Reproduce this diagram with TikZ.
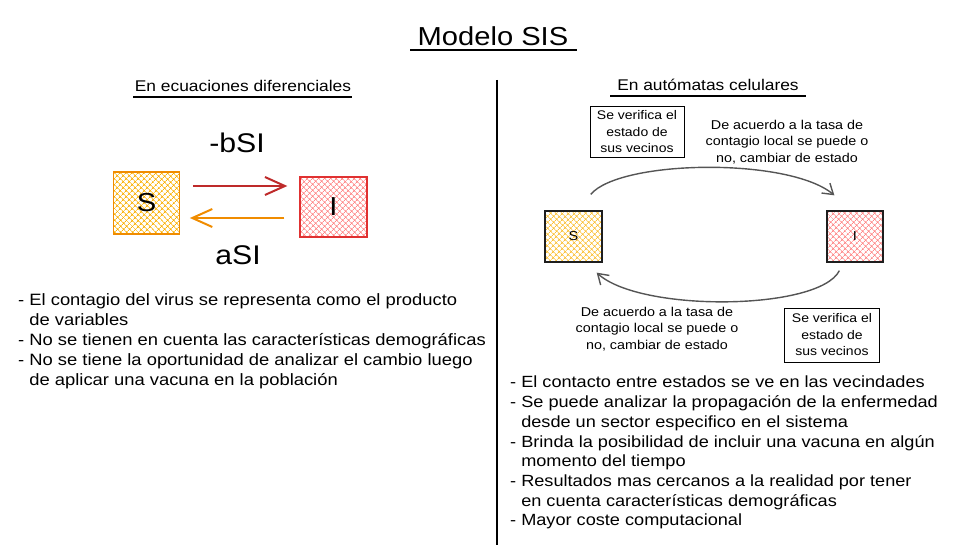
\documentclass[tikz,border=0pt]{standalone}
\usepackage{fontspec}
\setmainfont{Liberation Sans}[FakeStretch=1.12]
\usetikzlibrary{arrows.meta,patterns.meta,positioning}

\definecolor{naranja}{HTML}{F08C00}
\definecolor{amarillo}{HTML}{FAB005}
\definecolor{rojo}{HTML}{E03131}
\definecolor{rosa}{HTML}{FF8787}
\definecolor{tinta}{HTML}{1E1E1E}
\definecolor{gris}{HTML}{555555}

\begin{document}
\begin{tikzpicture}[x=1pt, y=-1pt,
    caja/.style={draw, line width=1.3pt, inner sep=0pt},
    rayado/.style={pattern={Hatch[angle=45,distance=4pt,line width=0.75pt]}, pattern color=#1},
    lista/.style={align=left, inner sep=0pt, anchor=north west},
    nota/.style={align=center, inner sep=0pt, font=\fontsize{12.8}{16.5}\selectfont},
    flecha/.style={line width=2pt, -{Straight Barb[length=20pt,width=18pt]}},
    ciclo/.style={gris, line width=1.4pt, -{Straight Barb[length=10pt,width=13pt]}}
]
    \useasboundingbox (0,0) rectangle (955,559);

    % titulo
    \node[inner sep=0pt, font=\fontsize{26}{30}\selectfont] (titulo) at (493,36) {Modelo SIS};
    \draw[line width=2pt] (410,50) -- (577,50);

    % division
    \draw[line width=1.8pt] (497,80) -- (497,545);

    % ecuaciones diferenciales
    \node[inner sep=0pt, font=\fontsize{15.5}{18}\selectfont] (ecTit) at (243,86)
        {En ecuaciones diferenciales};
    \draw[line width=1.3pt] (133,97) -- (352,97);

    \node[caja, naranja, text=black, rayado=amarillo, minimum width=66pt,
        minimum height=62pt, font=\fontsize{26}{28}\selectfont] (S) at (146.5,203) {S};
    \node[caja, rojo, text=black, rayado=rosa, minimum width=67pt,
        minimum height=60pt, font=\fontsize{26}{28}\selectfont] (I) at (333.5,207) {I};

    \draw[flecha, rojo!85!black] ([shift={(13,-17)}]S.east) -- ([shift={(-12,-21)}]I.west);
    \draw[flecha, naranja] ([shift={(-15,11)}]I.west) -- ([shift={(10,15)}]S.east);

    \node[font=\fontsize{27}{30}\selectfont] (menosb) at (237,143) {-bSI};
    \node[font=\fontsize{27}{30}\selectfont] (masa) at (238,255) {aSI};

    \node[lista, font=\fontsize{16.4}{20}\selectfont] (ecLista) at (18,293) {%
        - El contagio del virus se representa como el producto\\
        \phantom{- }de variables\\
        - No se tienen en cuenta las características demográficas\\
        - No se tiene la oportunidad de analizar el cambio luego\\
        \phantom{- }de aplicar una vacuna en la población};

    % automatas celulares
    \node[inner sep=0pt, font=\fontsize{15.5}{18}\selectfont] (acTit) at (708,85)
        {En autómatas celulares};
    \draw[line width=1.3pt] (610,96) -- (806,96);

    \node[caja, tinta, text=black, rayado=amarillo!80, minimum width=57pt,
        minimum height=51pt, font=\fontsize{13}{16}\selectfont] (sR) at (573.5,236.5) {S};
    \node[caja, tinta, text=black, rayado=rosa, minimum width=56pt,
        minimum height=51pt, font=\fontsize{13}{16}\selectfont] (iR) at (855,236.5) {I};

    \draw[ciclo] ([shift={(-12,-16)}]sR.north east)
        .. controls +(30,-35) and +(-45,-38) .. ([shift={(8,-15)}]iR.north west);
    \draw[ciclo] ([shift={(13,8)}]iR.south west)
        .. controls +(-20,40) and +(44,40) .. ([shift={(-6,10)}]sR.south east);

    \node[nota, draw, line width=1pt, inner sep=3pt, minimum width=94pt,
        minimum height=50pt, font=\fontsize{12.5}{16.5}\selectfont] (vecArriba) at (637,132)
        {Se verifica el\\estado de\\sus vecinos};
    \node[nota] (tasaArriba) at (787,142)
        {De acuerdo a la tasa de\\contagio local se puede o\\no, cambiar de estado};
    \node[nota] (tasaAbajo) at (657,329)
        {De acuerdo a la tasa de\\contagio local se puede o\\no, cambiar de estado};
    \node[nota, draw, line width=1pt, inner sep=3pt, minimum width=95pt,
        minimum height=54pt, font=\fontsize{12.5}{16.5}\selectfont] (vecAbajo) at (832,335)
        {Se verifica el\\estado de\\sus vecinos};

    \node[lista, font=\fontsize{16.2}{19.7}\selectfont] (acLista) at (510,376) {%
        - El contacto entre estados se ve en las vecindades\\
        - Se puede analizar la propagación de la enfermedad\\
        \phantom{- }desde un sector especifico en el sistema\\
        - Brinda la posibilidad de incluir una vacuna en algún\\
        \phantom{- }momento del tiempo\\
        - Resultados mas cercanos a la realidad por tener\\
        \phantom{- }en cuenta características demográficas\\
        - Mayor coste computacional};

\end{tikzpicture}
\end{document}
